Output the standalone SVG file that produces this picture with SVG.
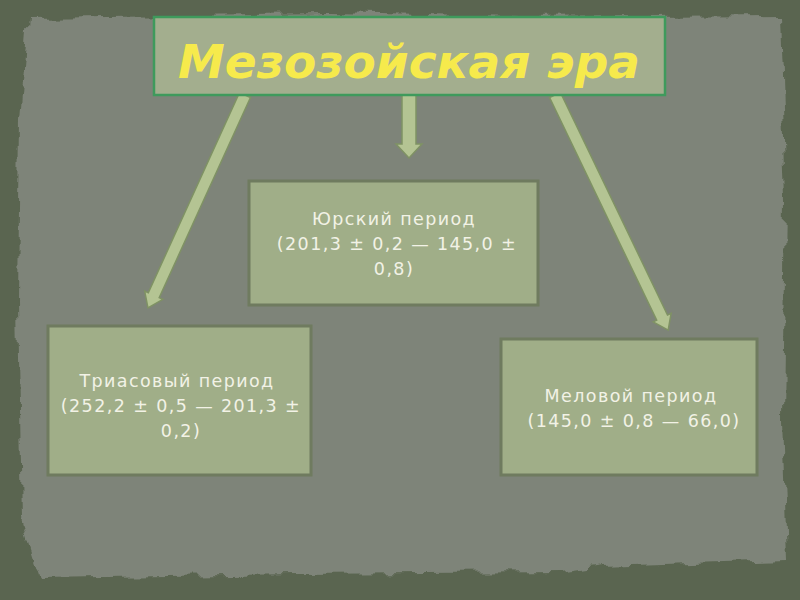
<svg xmlns="http://www.w3.org/2000/svg" width="800" height="600" viewBox="0 0 800 600">
<defs>
<filter id="rough" x="-5%" y="-5%" width="110%" height="110%">
<feTurbulence type="fractalNoise" baseFrequency="0.04" numOctaves="3" seed="3" result="n"/>
<feDisplacementMap in="SourceGraphic" in2="n" scale="14" xChannelSelector="R" yChannelSelector="G"/>
</filter>
<style>
.box{fill:#a0ae88;stroke:#6f7b5f;stroke-width:3}
.title{fill:#a3ae8e;stroke:#3f9a5c;stroke-width:2.5}
.lbl{font-family:"DejaVu Sans",sans-serif;font-size:17.5px;letter-spacing:1.4px;fill:#f2f2e6;text-anchor:middle}
.ttl{font-family:"DejaVu Sans",sans-serif;font-size:47px;font-weight:bold;font-style:italic;fill:#f6ea4c;text-anchor:middle}
.arr{fill:#b4c493;stroke:#7f9264;stroke-width:1.5;stroke-linejoin:miter}
</style>
</defs>
<rect x="0" y="0" width="800" height="600" fill="#5a6550"/>
<path d="M28,18 L330,14 L520,18 L780,16 L786,200 L783,420 L788,560 L600,566 L560,572 L300,574 L40,578 L22,520 L18,300 L20,120 Z" fill="#7e8479" filter="url(#rough)"/>
<g id="connectors">
<polygon class="arr" transform="translate(409,95) rotate(90)" points="0,-7 49,-7 49,-13 63,0 49,13 49,7 0,7"/>
<polygon class="arr" transform="translate(245,95) rotate(114.5)" points="0,-6 220,-6 220,-10 234,0 220,10 220,6 0,6"/>
<polygon class="arr" transform="translate(555,95) rotate(64.3)" points="0,-6 247,-6 247,-10 261,0 247,10 247,6 0,6"/>
</g>
<g id="title">
<rect class="title" x="154" y="17" width="511" height="78"/>
<text class="ttl" x="409" y="78">Мезозойская эра</text>
</g>
<g id="jurassic">
<rect class="box" x="249" y="181" width="289" height="124"/>
<text class="lbl" x="394" y="225">Юрский период</text>
<text class="lbl" x="397" y="250">(201,3 ± 0,2 — 145,0 ±</text>
<text class="lbl" x="394" y="275">0,8)</text>
</g>
<g id="triassic">
<rect class="box" x="48" y="326" width="263" height="149"/>
<text class="lbl" x="177" y="387">Триасовый период</text>
<text class="lbl" x="181" y="412">(252,2 ± 0,5 — 201,3 ±</text>
<text class="lbl" x="181" y="437">0,2)</text>
</g>
<g id="cretaceous">
<rect class="box" x="501" y="339" width="256" height="136"/>
<text class="lbl" x="631" y="402">Меловой период</text>
<text class="lbl" x="634" y="427">(145,0 ± 0,8 — 66,0)</text>
</g>
</svg>
